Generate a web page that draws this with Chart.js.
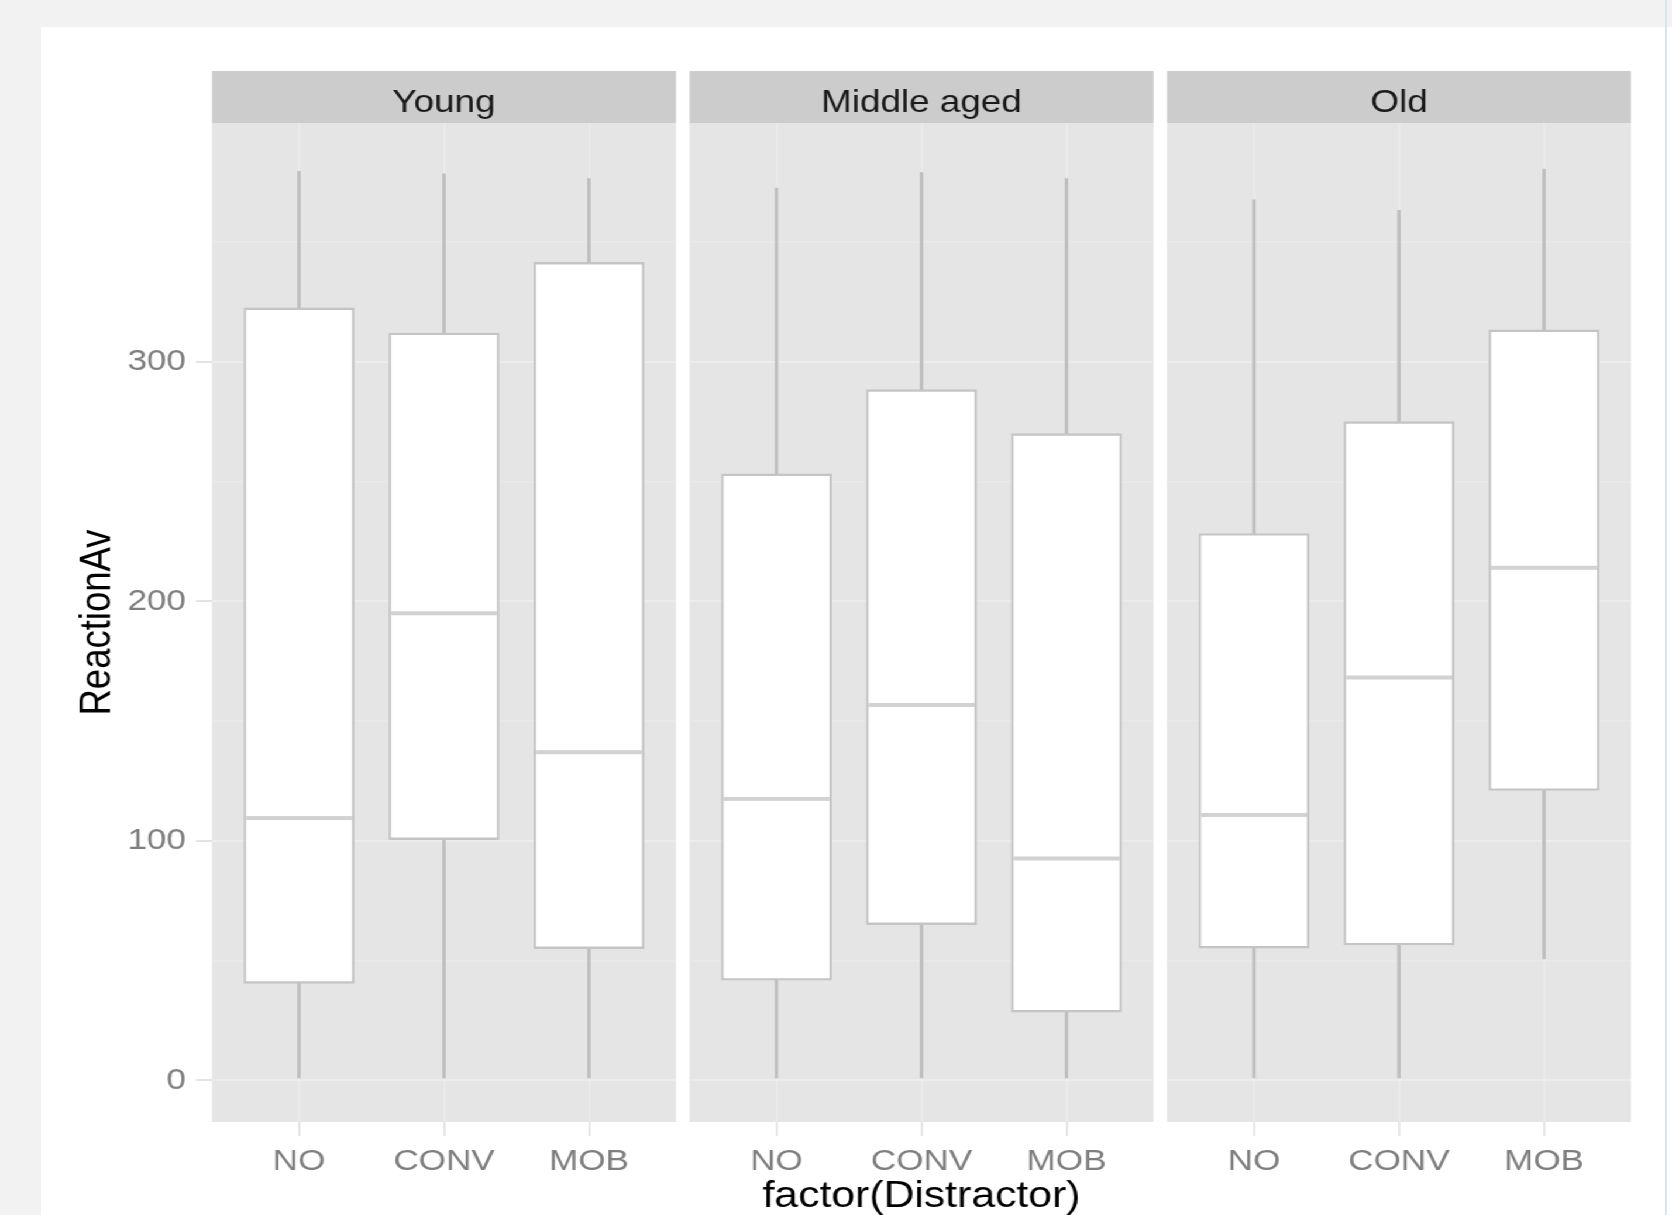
<!DOCTYPE html>
<html>
<head>
<meta charset="utf-8">
<script src="https://cdn.jsdelivr.net/npm/chart.js@4/dist/chart.umd.min.js"></script>
<style>
  html, body { margin: 0; padding: 0; width: 1672px; height: 1215px; overflow: hidden; background: #f2f2f2; }
  #sheet { position: absolute; left: 41px; top: 27px; width: 1631px; height: 1188px; background: #ffffff; }
  #edge { position: absolute; left: 1665px; top: 0; width: 2px; height: 1215px; background: #d4e5f4; }
  #stage { position: absolute; left: 0; top: 0; width: 1429px; height: 1215px; transform: scaleX(1.170049); transform-origin: 0 0; }
  #stage canvas { position: absolute; left: 0; top: 0; }
</style>
</head>
<body>
<div id="sheet"></div>
<div id="edge"></div>
<div id="stage">
  <canvas id="young" width="1429" height="1215"></canvas>
  <canvas id="middle" width="1429" height="1215"></canvas>
  <canvas id="old" width="1429" height="1215"></canvas>
</div>
<script>
// ---- data -------------------------------------------------------------
const distractors = ['NO', 'CONV', 'MOB'];
const ageGroups = ['Young', 'Middle aged', 'Old'];
const yMajorTicks = [0, 100, 200, 300];
const yMinorTicks = [50, 150, 250, 350];

// ReactionAv box statistics, one entry per distractor (NO, CONV, MOB)
const youngLow    = [1, 1, 1];
const youngQ1     = [40.5, 100.5, 55];
const youngMedian = [109.5, 195, 137];
const youngQ3     = [322.5, 312, 341.5];
const youngHigh   = [379.5, 378.5, 376.5];

const middleLow    = [1, 1, 1];
const middleQ1     = [41.8, 65, 28.5];
const middleMedian = [117.5, 156.7, 92.6];
const middleQ3     = [253.2, 288.4, 270];
const middleHigh   = [372.5, 379, 376.5];

const oldLow    = [1, 1, 50.7];
const oldQ1     = [55.2, 56.5, 121];
const oldMedian = [110.8, 168.2, 214];
const oldQ3     = [228.3, 275, 313.3];
const oldHigh   = [367.6, 363.2, 380.5];

// ---- layout -----------------------------------------------------------
const STAGE_W = 1429;
const S = 1672 / STAGE_W;          // horizontal stretch applied by CSS
const ix = v => v / S;             // page px -> stage px (horizontal)
const PANEL_TOP = 123, PANEL_BOTTOM = 1122, STRIP_TOP = 71;
const panelSpans = [[212, 676], [689.5, 1153.5], [1167, 1631]];
const FONT = '"Liberation Sans", Arial, Helvetica, sans-serif';

const facetPlugin = {
  id: 'facet',
  beforeDraw(chart, args, o) {
    const { ctx, chartArea: a } = chart;
    ctx.save();
    ctx.fillStyle = '#e5e5e5';
    ctx.fillRect(a.left, a.top, a.right - a.left, a.bottom - a.top);
    ctx.fillStyle = '#cccccc';
    ctx.fillRect(a.left, STRIP_TOP, a.right - a.left, a.top - STRIP_TOP);
    ctx.fillStyle = '#1a1a1a';
    ctx.font = '31.5px ' + FONT;
    ctx.textAlign = 'center';
    ctx.textBaseline = 'alphabetic';
    ctx.fillText(o.label, (a.left + a.right) / 2, 111.5);
    ctx.restore();
  },
  afterDatasetsDraw(chart, args, o) {
    const { ctx } = chart;
    const yScale = chart.scales.y;
    const boxes = chart.getDatasetMeta(1).data;
    ctx.save();
    ctx.fillStyle = '#d2d2d2';
    boxes.forEach((bar, i) => {
      const py = yScale.getPixelForValue(o.medians[i]);
      ctx.fillRect(bar.x - bar.width / 2 + ix(2), py - 2, bar.width - 2 * ix(2), 4);
    });
    ctx.restore();
  }
};

function makeFacet(canvasId, facetIndex, low, q1, median, q3, high) {
  const [pl, pr] = panelSpans[facetIndex];
  const first = facetIndex === 0;
  const middle = facetIndex === 1;
  const whiskers = distractors.map((d, i) => ({ x: i + 1, y: [low[i], high[i]] }));
  const boxes = distractors.map((d, i) => ({ x: i + 1, y: [q1[i], q3[i]] }));

  return new Chart(document.getElementById(canvasId), {
    type: 'bar',
    data: {
      datasets: [
        {
          data: whiskers,
          order: 2,
          grouped: false,
          barThickness: ix(2.6),
          backgroundColor: '#bebebe',
          borderWidth: 0
        },
        {
          data: boxes,
          order: 1,
          grouped: false,
          barThickness: ix(110),
          backgroundColor: '#ffffff',
          borderColor: '#c4c4c4',
          borderWidth: { top: 2.4, bottom: 2.4, left: ix(2.4), right: ix(2.4) },
          borderSkipped: false
        }
      ]
    },
    options: {
      responsive: false,
      animation: false,
      events: [],
      layout: {
        padding: { left: first ? 0 : ix(pl), right: STAGE_W - ix(pr), top: PANEL_TOP, bottom: 0 }
      },
      plugins: {
        legend: { display: false },
        tooltip: { enabled: false },
        facet: { label: ageGroups[facetIndex], medians: median }
      },
      scales: {
        x: {
          type: 'linear',
          min: 0.4,
          max: 3.6,
          offset: false,
          afterBuildTicks: s => { s.ticks = distractors.map((d, i) => ({ value: i + 1 })); },
          afterFit: s => { s.height = 1215 - PANEL_BOTTOM; },
          border: { display: false },
          grid: {
            offset: false,
            color: '#ebebeb',
            lineWidth: ix(2),
            drawTicks: true,
            tickLength: 14,
            tickColor: '#e2e2e2',
            tickWidth: ix(2)
          },
          ticks: {
            autoSkip: false,
            maxRotation: 0,
            padding: 8,
            color: '#7f7f7f',
            font: { family: FONT, size: 30 },
            callback: v => distractors[v - 1]
          },
          title: {
            display: middle,
            text: 'factor(Distractor)',
            color: '#000000',
            font: { family: FONT, size: 36.5 },
            padding: { top: 0, bottom: -4 }
          }
        },
        y: {
          min: -17.4,
          max: 399.7,
          afterBuildTicks: s => {
            s.ticks = yMajorTicks.concat(yMinorTicks).sort((a, b) => a - b).map(v => ({ value: v }));
          },
          afterFit: s => { s.width = first ? ix(pl) : 0; },
          border: { display: false },
          grid: {
            color: c => (yMajorTicks.includes(c.tick && c.tick.value) ? '#ececec' : '#e9e9e9'),
            lineWidth: c => (yMajorTicks.includes(c.tick && c.tick.value) ? 2 : 1.5),
            drawTicks: first,
            tickLength: ix(16),
            tickColor: c => (yMajorTicks.includes(c.tick && c.tick.value) ? '#e2e2e2' : 'rgba(0,0,0,0)'),
            tickWidth: 2
          },
          ticks: {
            display: first,
            autoSkip: false,
            padding: ix(10),
            color: '#7f7f7f',
            font: { family: FONT, size: 30 },
            callback: v => (yMajorTicks.includes(v) ? String(v) : '')
          },
          title: {
            display: first,
            text: 'ReactionAv',
            color: '#000000',
            font: { family: FONT, size: 36.5 },
            padding: { top: ix(98.6) - 21.9, bottom: 0 }
          }
        }
      }
    },
    plugins: [facetPlugin]
  });
}

makeFacet('young', 0, youngLow, youngQ1, youngMedian, youngQ3, youngHigh);
makeFacet('middle', 1, middleLow, middleQ1, middleMedian, middleQ3, middleHigh);
makeFacet('old', 2, oldLow, oldQ1, oldMedian, oldQ3, oldHigh);
</script>
</body>
</html>
